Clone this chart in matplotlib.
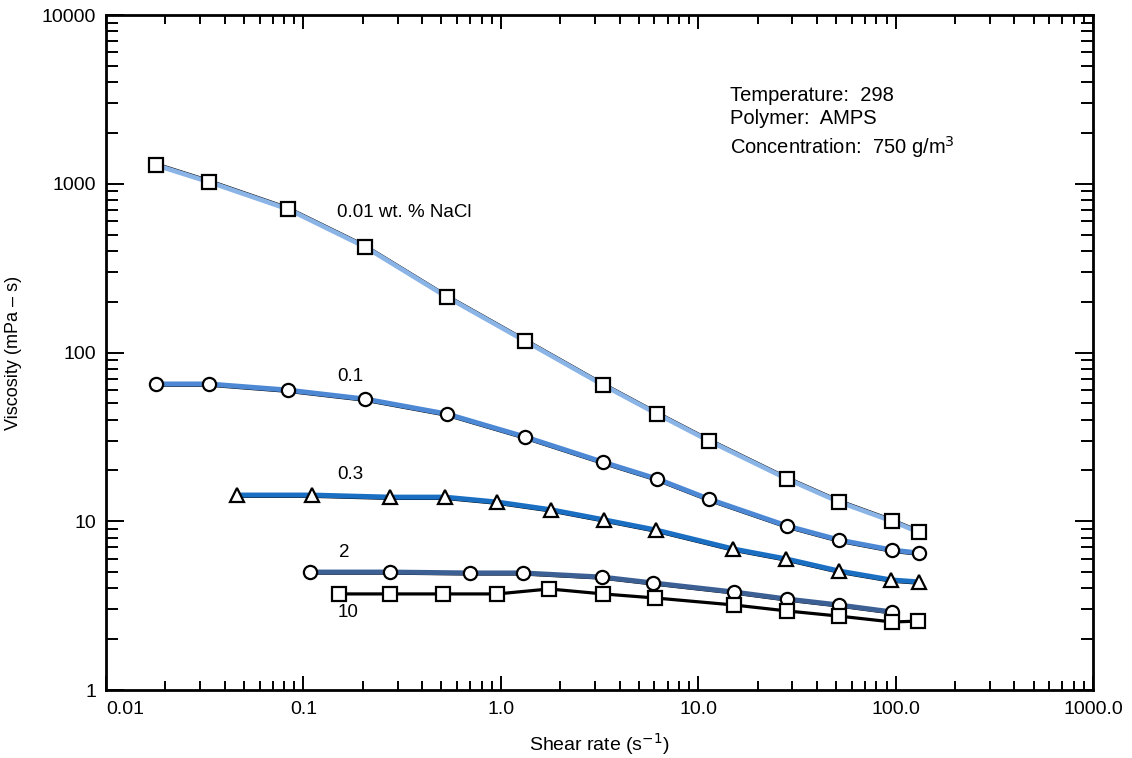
## import

import numpy as np
import matplotlib
matplotlib.use("Agg")
import matplotlib.pyplot as plt
from matplotlib.transforms import offset_copy


## data

rate_001 = [0.0179, 0.0333, 0.0835, 0.206, 0.535, 1.33, 3.30, 6.21, 11.4, 28.3, 51.9, 96.3, 132]
visc_001 = [1290, 1025, 708, 422, 213, 117, 64.2, 43.2, 29.9, 17.8, 13.0, 10.0, 8.6]

rate_01 = [0.0179, 0.0333, 0.0835, 0.206, 0.535, 1.33, 3.30, 6.21, 11.4, 28.3, 51.9, 96.3, 132]
visc_01 = [65.1, 65.1, 59.9, 53.0, 43.2, 31.6, 22.4, 17.8, 13.5, 9.37, 7.74, 6.75, 6.48]

rate_03 = [0.0461, 0.111, 0.275, 0.522, 0.96, 1.80, 3.34, 6.13, 15.1, 28.0, 51.9, 95.2, 132]
visc_03 = [14.3, 14.3, 13.9, 13.9, 13.0, 11.7, 10.2, 8.87, 6.85, 5.98, 5.07, 4.49, 4.37]

rate_2 = [0.108, 0.275, 0.70, 1.30, 3.26, 5.92, 15.2, 28.3, 51.9, 96.3]
visc_2 = [5.0, 5.0, 4.94, 4.94, 4.67, 4.31, 3.81, 3.46, 3.19, 2.90]

rate_10 = [0.152, 0.275, 0.51, 0.96, 1.76, 3.30, 6.06, 15.2, 28.3, 51.9, 96.3, 130]
visc_10 = [3.71, 3.71, 3.71, 3.71, 3.97, 3.71, 3.51, 3.19, 2.94, 2.74, 2.53, 2.56]

x_ticks = [0.01, 0.1, 1, 10, 100, 1000]
x_ticklabels = ['0.01', '0.1', '1.0', '10.0', '100.0', '1000.0']
y_ticks = [1, 10, 100, 1000, 10000]
y_ticklabels = ['1', '10', '100', '1000', '10000']


## plot

plt.rcParams['font.family'] = ['Liberation Sans', 'DejaVu Sans']

fig = plt.figure(figsize=(11.32, 7.58), dpi=100)
ax = fig.add_axes([0.0936, 0.0897, 0.8719, 0.8905])

series = [
    (rate_001, visc_001, 's', '#8ab3e6', 3.4, 2.2),
    (rate_01, visc_01, 'o', '#4d88d4', 3.6, -2.2),
    (rate_03, visc_03, '^', '#1a6fc2', 3.6, -2.2),
    (rate_2, visc_2, 'o', '#3d6094', 3.6, -2.0),
    (rate_10, visc_10, 's', 'black', 2.3, 0.0),
]

for rate, visc, mk, col, lw, dy in series:
    if dy != 0:
        # thin black trace sitting just off the coloured line
        shifted = offset_copy(ax.transData, fig=fig, x=0, y=dy, units='dots')
        ax.plot(rate, visc, color='black', lw=1.0, transform=shifted, zorder=2)
    ax.plot(rate, visc, color=col, lw=lw, zorder=3)
    ax.plot(rate, visc, ls='none', marker=mk, markersize=10 if mk == 's' else 9.5,
            markerfacecolor='white', markeredgecolor='black', markeredgewidth=1.6, zorder=4)

ax.set_xscale('log')
ax.set_yscale('log')
ax.set_xlim(0.01, 1000)
ax.set_ylim(1, 10000)

ax.set_xticks(x_ticks)
ax.set_xticklabels(x_ticklabels)
ax.set_yticks(y_ticks)
ax.set_yticklabels(y_ticklabels)
ax.get_xticklabels()[0].set_horizontalalignment('left')

ax.tick_params(which='both', direction='in', top=True, right=True, width=1.4, labelsize=14)
ax.tick_params(axis='x', which='major', length=10, pad=8)
ax.tick_params(axis='x', which='minor', length=6.5)
ax.tick_params(axis='y', which='major', length=13, pad=7)
ax.tick_params(axis='y', which='minor', length=8.5)

for sp in ax.spines.values():
    sp.set_linewidth(2.0)

ax.set_xlabel('Shear rate (s$^{-1}$)', fontsize=14, labelpad=9)
ax.set_ylabel('Viscosity (mPa – s)', fontsize=13, labelpad=14)

# curve labels
ax.text(0.148, 680, '0.01 wt. % NaCl', fontsize=13.5, va='center')
ax.text(0.148, 71.6, '0.1', fontsize=13.5, va='center')
ax.text(0.148, 19.0, '0.3', fontsize=13.5, va='center')
ax.text(0.152, 6.57, '2', fontsize=13.5, va='center')
ax.text(0.150, 2.86, '10', fontsize=13.5, va='center')

ax.text(0.632, 0.84, 'Temperature:  298\nPolymer:  AMPS\nConcentration:  750 g/m$^3$',
        transform=ax.transAxes, fontsize=14.5, va='center', ha='left', linespacing=1.3)

plt.savefig('out.png', dpi=100)
